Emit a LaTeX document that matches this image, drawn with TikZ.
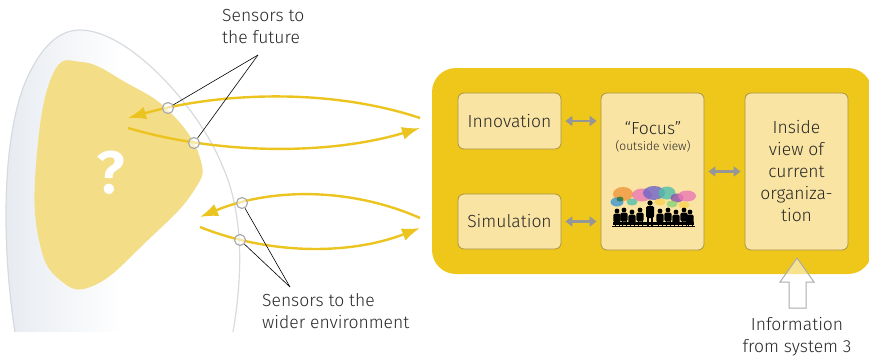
\documentclass[tikz,border=0pt]{standalone}
\usepackage{fontspec}
\setmainfont{Fira Sans}[UprightFont=* Light, BoldFont=* SemiBold]
\usetikzlibrary{arrows.meta,calc}

\definecolor{panel}{RGB}{239,199,27}
\definecolor{boxfill}{RGB}{249,228,163}
\definecolor{boxline}{RGB}{168,148,70}
\definecolor{blob}{RGB}{243,221,134}
\definecolor{loop}{RGB}{236,196,32}
\definecolor{headgrey}{RGB}{230,234,240}
\definecolor{outline}{RGB}{215,219,224}
\definecolor{linkgrey}{RGB}{150,150,150}
\definecolor{ink}{RGB}{40,40,40}

\tikzset{
  txt/.style={text=ink, inner sep=0pt, font=\fontsize{17.5}{22}\selectfont},
  stagebox/.style={draw=boxline, line width=0.8pt, fill=boxfill, rounded corners=6pt,
    minimum width=103pt, text=ink, inner sep=2pt, font=\fontsize{17.5}{22}\selectfont},
  loopline/.style={draw=loop, line width=2.4pt, -{Latex[length=18pt,width=13pt]}},
  sensor/.style={circle, draw=linkgrey!80, line width=1.2pt, fill=white, fill opacity=0.6,
    draw opacity=1, minimum size=11pt, inner sep=0pt},
  leader/.style={draw=black, line width=0.6pt},
  link/.style={draw=linkgrey, line width=2.8pt,
    {Triangle[length=7pt,width=10pt]}-{Triangle[length=7pt,width=10pt]}, shorten <=4pt, shorten >=4pt},
  bubble/.style={fill opacity=0.8},
  person/.style={fill=black},
}

\begin{document}
\begin{tikzpicture}[x=1pt,y=-1pt]
\useasboundingbox (0,0) rectangle (869,356);

% head profile with soft grey inner edge
\path[left color=headgrey, right color=white, middle color=white]
  (15,332) .. controls (2,250) and (0,130) .. (30,72)
  .. controls (45,42) and (62,30) .. (80,30)
  .. controls (130,30) and (200,110) .. (222,165)
  .. controls (245,215) and (242,280) .. (233,332) -- cycle;
\draw[outline, line width=1.2pt]
  (15,332) .. controls (2,250) and (0,130) .. (30,72)
  .. controls (45,42) and (62,30) .. (80,30)
  .. controls (130,30) and (200,110) .. (222,165)
  .. controls (245,215) and (242,280) .. (233,332);

% inner yellow area
\fill[blob] plot[smooth cycle, tension=0.75] coordinates
  {(52,76) (82,62) (125,82) (170,112) (200,158) (193,192) (148,240) (95,285) (60,280) (39,240) (36,165)};
\node[text=white, font=\bfseries\fontsize{60}{60}\selectfont, inner sep=0pt] (q) at (111,173) {?};

% feedback loops
\draw[loopline] (420,118) .. controls (330,88) and (220,92) .. (128,118);
\draw[loopline] (128,128) .. controls (220,155) and (330,155) .. (420,128);
\draw[loopline] (420,218) .. controls (350,187) and (270,188) .. (200,217);
\draw[loopline] (200,227) .. controls (270,255) and (350,255) .. (420,228);

% sensors
\node[sensor] (s1) at (168,108) {};
\node[sensor] (s2) at (194,143) {};
\node[sensor] (s3) at (242,203) {};
\node[sensor] (s4) at (240,240) {};

\node[txt, align=left, anchor=north west] (futlbl) at (222,9) {Sensors to\\the future};
\coordinate (futtip) at (258,55);
\draw[leader] (futtip) -- (s1);
\draw[leader] (futtip) -- (s2);

\node[txt, align=left, anchor=north west] (envlbl) at (262,293) {Sensors to the\\wider environment};
\coordinate (envtip) at (290,287);
\draw[leader] (envtip) -- (s3);
\draw[leader] (envtip) -- (s4);

% management panel
\fill[panel, rounded corners=24pt] (432,68) rectangle (872,274);

\node[stagebox, minimum height=56pt] (inn) at (509.5,121) {Innovation};
\node[stagebox, minimum height=55pt] (sim) at (509.5,221.5) {Simulation};
\node[stagebox, minimum height=157pt] (foc) at (652.5,171.5) {};
\node[stagebox, minimum height=157pt, align=center] (ins) at (796.5,171.5)
  {Inside\\view of\\current\\organiza-\\tion};

\node[txt] (foctitle) at (653,128) {“Focus”};
\node[txt, font=\fontsize{12}{14}\selectfont] (focsub) at (653,146) {(outside view)};

\draw[link] (inn.east) -- (foc.west |- inn.east);
\draw[link] (sim.east) -- (foc.west |- sim.east);
\draw[link] (foc.east) -- (ins.west);

% meeting picture: speech bubbles
\begin{scope}
  \fill[bubble, fill={rgb,255:red,240;green,150;blue,60}] (623,194) ellipse (10 and 7);
  \fill[bubble, fill={rgb,255:red,60;green,150;blue,210}] (617,202) ellipse (6.5 and 4.5);
  \fill[bubble, fill={rgb,255:red,40;green,120;blue,60}] (620,199) ellipse (3.5 and 2.5);
  \fill[bubble, fill={rgb,255:red,80;green,190;blue,170}] (632,202) ellipse (5.5 and 3.5);
  \fill[bubble, fill={rgb,255:red,235;green,120;blue,180}] (642,195) ellipse (10 and 6.5);
  \fill[bubble, fill={rgb,255:red,110;green,100;blue,200}] (654,193) ellipse (11 and 7);
  \fill[bubble, fill={rgb,255:red,80;green,190;blue,170}] (667,193) ellipse (8.5 and 6.5);
  \fill[bubble, fill={rgb,255:red,140;green,80;blue,170}] (677,198) ellipse (6.5 and 4.5);
  \fill[bubble, fill={rgb,255:red,235;green,120;blue,180}] (687,196) ellipse (9 and 5.5);
  \fill[bubble, fill={rgb,255:red,250;green,210;blue,80}] (660,202) ellipse (5.5 and 3.5);
  \fill[bubble, fill={rgb,255:red,140;green,210;blue,120}] (672,204) ellipse (5.5 and 3.5);
  \fill[bubble, fill={rgb,255:red,250;green,210;blue,80}] (684,205) ellipse (5.5 and 3.5);
\end{scope}

% meeting picture: people round a table
\begin{scope}
  \fill[person] (613,222) rectangle (694,224.5);
  \foreach \px/\hy in {617/211,624/210,632/212,640/210,660/211,668/210,676/212,684/210,690/212}{
    \fill[person] (\px,\hy) circle (2.4);
    \fill[person, rounded corners=1.5pt] (\px-3.6,\hy+2.5) rectangle (\px+3.6,\hy+11.5);
    \fill[person] (\px-2.5,\hy+10) rectangle (\px-1.5,226);
    \fill[person] (\px+1.5,\hy+10) rectangle (\px+2.5,226);
  }
  \fill[person] (650,203) circle (2.6);
  \fill[person, rounded corners=1.5pt] (646,206) rectangle (654,218);
  \fill[person] (647,217) rectangle (649,226);
  \fill[person] (651,217) rectangle (653,226);
  \fill[person] (612,226) rectangle (695,227);
\end{scope}

% incoming information arrow
\node[txt, align=center, anchor=north] (info) at (797,317) {Information\\from system 3};
\draw[draw=linkgrey!80, line width=1pt, fill=white, fill opacity=0.5, draw opacity=1]
  (789,308) -- (789,282) -- (780,282) -- (797,258) -- (814,282) -- (806,282) -- (806,308) -- cycle;
\end{tikzpicture}
\end{document}
